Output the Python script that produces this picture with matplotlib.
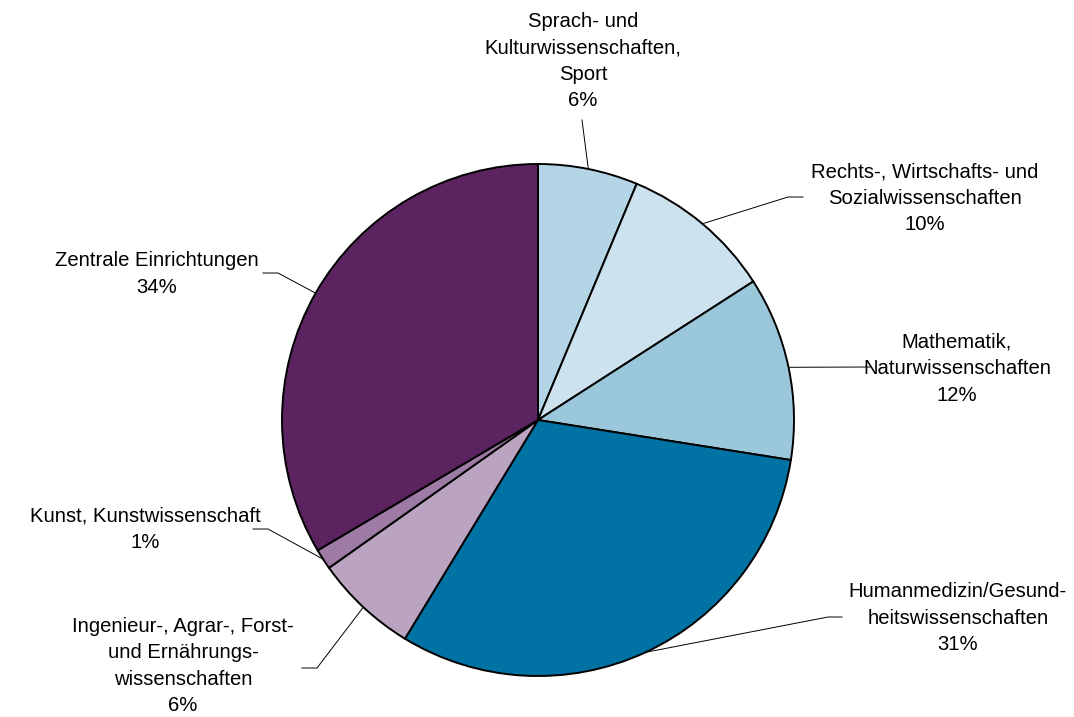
import numpy as np
import matplotlib.pyplot as plt

# shares of the pie, clockwise from 12 o'clock
categories = ['Sprach- und\nKulturwissenschaften,\nSport',
              'Rechts-, Wirtschafts- und\nSozialwissenschaften',
              'Mathematik,\nNaturwissenschaften',
              'Humanmedizin/Gesund-\nheitswissenschaften',
              'Ingenieur-, Agrar-, Forst-\nund Ern\u00e4hrungs-\nwissenschaften',
              'Kunst, Kunstwissenschaft',
              'Zentrale Einrichtungen']
shares = [6.3, 9.6, 11.6, 31.2, 6.5, 1.3, 33.5]
colors = ['#B4D5E5', '#CCE2EE', '#9BC7DB', '#0072A3', '#BBA4C1', '#9D7BA5', '#5B2360']

W, H = 1074, 717
# label centres and leader elbows in pixel coords (y from top)
label_xy = [(583, 61), (925, 198), (957, 369), (958, 618), (183, 666), (145, 529), (157, 274)]
elbow_xy = [(582, 120), (788, 197), (870, 367), (828, 617), (317, 668), (268, 529), (278, 273)]
end_xy = [(582, 120), (803, 197), (870, 367), (842, 617), (302, 668), (253, 529), (263, 273)]

plt.rcParams['font.family'] = ['Liberation Sans', 'DejaVu Sans']

fig = plt.figure(figsize=(W / 100, H / 100), dpi=100)
ax = fig.add_axes([0, 0, 1, 1])

cx, cy, r = 538, H - 420, 256
wedges, _ = ax.pie(shares, colors=colors, startangle=90, counterclock=False,
                   center=(cx, cy), radius=r, frame=True,
                   wedgeprops=dict(edgecolor='black', linewidth=1.4))
ax.set_xlim(0, W)
ax.set_ylim(0, H)
ax.set_aspect('equal')
ax.axis('off')

pct = np.array(shares) / sum(shares) * 100
for w, cat, p, lxy, exy, nxy in zip(wedges, categories, pct, label_xy, elbow_xy, end_xy):
    ang = np.deg2rad((w.theta1 + w.theta2) / 2)
    sx, sy = cx + r * np.cos(ang), cy + r * np.sin(ang)
    ax.plot([sx, exy[0], nxy[0]], [sy, H - exy[1], H - nxy[1]], color='black', lw=0.7)
    ax.text(lxy[0], H - lxy[1], '{}\n{:.0f}%'.format(cat, round(p)), ha='center', va='center',
            multialignment='center', fontsize=14.6, linespacing=1.5)

fig.savefig('out.png', dpi=100)
